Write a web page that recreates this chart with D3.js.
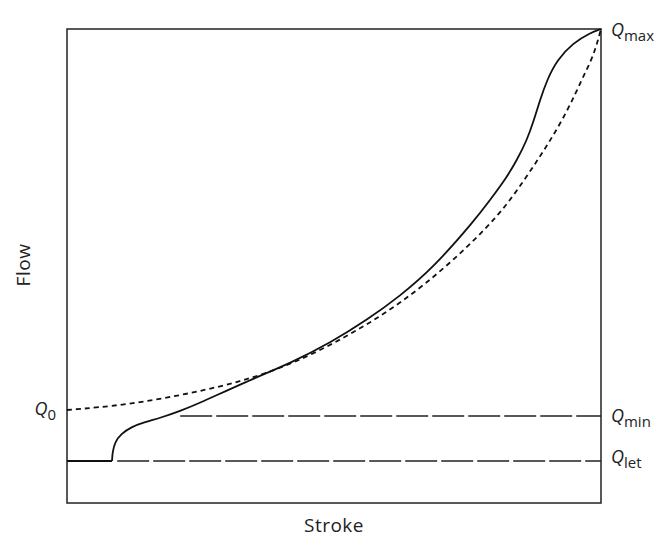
<!DOCTYPE html>
<html>
<head>
<meta charset="utf-8">
<script src="https://cdn.jsdelivr.net/npm/d3@7"></script>
<style>
html,body{margin:0;padding:0;background:#fff;}
svg{display:block;font-family:"Open Sans",sans-serif;}
</style>
</head>
<body>
<svg id="chart" width="660" height="538"></svg>
<script>
// Data (stroke 0-100, flow 0-100)
const actualStroke = [8.43, 8.43, 8.52, 8.99, 10.11, 11.99, 14.61, 17.42, 21.16, 24.91, 32.96, 42.32, 49.25, 56.18, 62.36, 68.54, 76.40, 79.21, 82.02, 84.27, 86.14, 87.45, 88.58, 89.89, 91.76, 94.76, 97.94, 100, 100];
const actualFlow   = [8.86, 8.86, 10.76, 12.87, 14.56, 16.03, 17.09, 17.93, 19.41, 21.10, 25.32, 29.75, 33.76, 38.61, 43.67, 49.58, 59.70, 63.92, 68.14, 72.36, 76.58, 80.80, 85.02, 89.24, 93.46, 97.05, 99.16, 100, 100];
const idealStroke  = [0, 0, 11.24, 23.60, 32.96, 42.32, 53.00, 62.36, 71.72, 81.09, 86.14, 89.89, 93.63, 96.63, 97.94, 98.88, 99.44, 100, 100];
const idealFlow    = [19.62, 19.62, 20.68, 23.21, 25.74, 29.32, 35.44, 41.98, 50.42, 60.76, 68.99, 75.32, 82.49, 89.87, 92.83, 95.57, 97.68, 100, 100];
const leakFlow = 8.86;   // Q_let
const minFlow = 18.35;   // Q_min
const minStart = 21.2;
const leakStart = 9.4;
const labels = [
  {name: "Q", sub: "max", y: 98.5, side: "right"},
  {name: "Q", sub: "min", y: 17.1, side: "right"},
  {name: "Q", sub: "let", y: 8.4, side: "right"},
  {name: "Q", sub: "0", y: 18.6, side: "left"}
];

const svg = d3.select("#chart");
const x = d3.scaleLinear().domain([0, 100]).range([67, 601]);
const y = d3.scaleLinear().domain([0, 100]).range([503, 29]);

// frame
svg.append("rect").attr("x", x(0)).attr("y", y(100))
  .attr("width", x(100) - x(0)).attr("height", y(0) - y(100))
  .attr("fill", "none").attr("stroke", "#222").attr("stroke-width", 1.5);

const line = d3.line().x(d => x(d[0])).y(d => y(d[1]));

// horizontal reference lines
svg.append("path").attr("d", line([[minStart, minFlow], [100, minFlow]]))
  .attr("fill", "none").attr("stroke", "#222").attr("stroke-width", 1.5)
  .attr("stroke-dasharray", "32,4");
svg.append("path").attr("d", line([[leakStart, leakFlow], [100, leakFlow]]))
  .attr("fill", "none").attr("stroke", "#222").attr("stroke-width", 1.5)
  .attr("stroke-dasharray", "32,4");

// solid flat part
svg.append("path").attr("d", line([[0, leakFlow], [actualStroke[0], leakFlow]]))
  .attr("fill", "none").attr("stroke", "#111").attr("stroke-width", 1.8);

// actual curve
const curveLine = d3.line().x(d => x(d[0])).y(d => y(d[1])).curve(d3.curveBasis);
svg.append("path").attr("d", curveLine(actualStroke.map((s, i) => [s, actualFlow[i]])))
  .attr("fill", "none").attr("stroke", "#111").attr("stroke-width", 1.8);

// ideal curve (dashed)
svg.append("path").attr("d", curveLine(idealStroke.map((s, i) => [s, idealFlow[i]])))
  .attr("fill", "none").attr("stroke", "#111").attr("stroke-width", 1.8)
  .attr("stroke-dasharray", "5,4");

// labels
labels.forEach(l => {
  const t = svg.append("text")
    .attr("y", y(l.y))
    .attr("font-size", 18).attr("fill", "#222");
  if (l.side === "right") t.attr("x", 611).attr("text-anchor", "start");
  else t.attr("x", 56).attr("text-anchor", "end");
  t.append("tspan").attr("font-style", "italic").text(l.name);
  t.append("tspan").attr("font-size", 15).attr("dy", 5).text(l.sub);
});

// axis titles
svg.append("text").attr("x", 334).attr("y", 532).attr("text-anchor", "middle")
  .attr("font-size", 19).attr("letter-spacing", 0.5).attr("fill", "#222").text("Stroke");
svg.append("text").attr("transform", "translate(30,265) rotate(-90)")
  .attr("text-anchor", "middle").attr("font-size", 19).attr("letter-spacing", 0.5).attr("fill", "#222").text("Flow");
</script>
</body>
</html>
